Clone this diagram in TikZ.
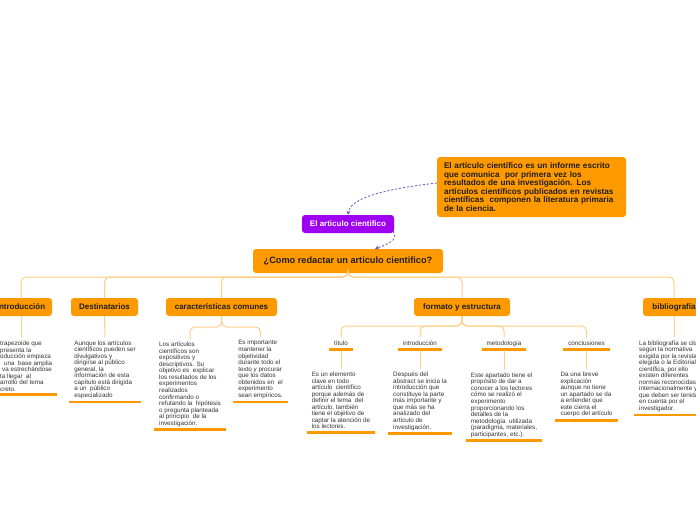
\documentclass[tikz,border=0pt]{standalone}
\usepackage{fontspec}
\setmainfont{Liberation Sans}
\usetikzlibrary{arrows.meta}
\definecolor{orng}{HTML}{FF9900}
\definecolor{lorng}{HTML}{FFCF87}
\definecolor{purp}{HTML}{A000F2}
\definecolor{dpurp}{HTML}{7E52B8}
\definecolor{btext}{HTML}{333333}
\begin{document}
\begin{tikzpicture}[x=1pt,y=-1pt,
  obox/.style={fill=orng, rounded corners=3pt, text=black!88, inner sep=0pt,
    font=\fontsize{8}{9}\selectfont\bfseries, minimum height=18pt},
  pbox/.style={fill=purp, rounded corners=3pt, text=white, inner sep=0pt,
    font=\fontsize{8}{9}\selectfont\bfseries, minimum height=18pt},
  btxt/.style={font=\fontsize{6.3}{6.55}\selectfont, text=btext, align=left,
    inner xsep=5pt, inner ysep=3pt, anchor=north},
  slabel/.style={font=\fontsize{6.3}{6.55}\selectfont, text=btext, inner sep=0pt,
    minimum height=11.6pt},
  tline/.style={lorng, line width=1pt, rounded corners=5pt},
  bar/.style={orng, line width=2.6pt},
  dline/.style={dpurp, line width=0.8pt, dash pattern=on 2.2pt off 1.8pt,
    -{Stealth[length=4pt,width=4pt]}}
]
\fill[white] (0,0) rectangle (696,520);
\useasboundingbox (0,0) rectangle (696,520);

% top definition box
\node[obox, minimum width=189pt, minimum height=60pt, text width=175pt, align=left,
  font=\fontsize{8.2}{8.55}\selectfont\bfseries] (def) at (531.5,187)
  {El artículo científico es un informe escrito\\
   que comunica \ por primera vez los\\
   resultados de una investigación. Los\\
   artículos científicos publicados en revistas\\
   científicas \ componen la literatura primaria\\
   de la ciencia.};

\node[pbox, minimum width=92pt] (pur) at (348,224) {El articulo cientifico};
\node[obox, minimum width=190pt, minimum height=24pt,
  font=\fontsize{9.2}{10}\selectfont\bfseries] (main) at (348,261)
  {¿Como redactar un articulo cientifico?};

\draw[dline] ([yshift=4pt]def.west) .. controls (385,189) and (350,198) .. (pur.north);
\draw[dline] ([xshift=-1pt,yshift=2pt]pur.south east) .. controls (399,240) and (388,244) .. ([xshift=27pt]main.north);

% level 1 boxes
\node[obox, minimum width=62pt] (intro) at (21,307) {Introducción};
\node[obox, minimum width=67pt] (dest) at (104.5,307) {Destinatarios};
\node[obox, minimum width=111pt] (car) at (221.5,307) {características comunes};
\node[obox, minimum width=96pt] (form) at (462,307) {formato y estructura};
\node[obox, minimum width=62pt] (bib) at (674,307) {bibliografía};

\coordinate (hub) at (348,277);
\foreach \n in {intro,dest,car,form,bib}{
  \draw[tline] (main.south) -- (hub) -| (\n.north);
}

% introduccion text
\node[btxt, anchor=north west] (introT) at (-5,337.8)
  {trapezoide que\\ presenta la\\ oducción empieza\\ \hspace*{4pt}una \ base amplia\\
   \hspace*{2pt}va estrechándose\\ ta llegar \ al\\ arrollo del tema\\ creto.};
\draw[tline] (intro.south) -- (intro.south |- introT.north);
\draw[bar] (introT.south west) -- (introT.south east);

% destinatarios text
\node[btxt] (destT) at (105,337.2)
  {Aunque los artículos\\ científicos pueden ser\\ divulgativos y\\ dirigirse al público\\
   general, la\\ información de esta\\ capítulo está dirigida\\ a un \ público\\ especializado};
\draw[tline] (dest.south) -- (destT.north);
\draw[bar] (destT.south west) -- (destT.south east);

% caracteristicas
\node[btxt] (carL) at (190,338.8)
  {Los artículos\\ científicos son\\ expositivos y\\ descriptivos. Su\\ objetivo es \ explicar\\
   los resultados de los\\ experimentos\\ realizados\\ confirmando o\\ refutando la \ hipótesis\\
   o pregunta planteada\\ al principio \ de la\\ investigación.};
\node[btxt] (carR) at (260.5,337.2)
  {Es importante\\ mantener la\\ objetividad\\ durante todo el\\ texto y procurar\\ que los datos\\
   obtenidos en \ el\\ experimento\\ sean empíricos.};
\coordinate (carhub) at (222,327);
\draw[tline] (car.south) -- (carhub) -| (carL.north);
\draw[tline] (car.south) -- (carhub) -| (carR.north);
\draw[bar] (carL.south west) -- (carL.south east);
\draw[bar] (carR.south west) -- (carR.south east);

% formato y estructura sub labels
\node[slabel, minimum width=24pt] (s1) at (341,343.5) {título};
\node[slabel, minimum width=44pt] (s2) at (420,343.5) {introducción};
\node[slabel, minimum width=44pt] (s3) at (504,343.5) {metodología};
\node[slabel, minimum width=47pt] (s4) at (586.5,343.5) {conclusiones};
\coordinate (formhub) at (462,326);
\foreach \s in {s1,s2,s3,s4}{
  \draw[tline] (form.south) -- (formhub) -| (\s.north);
  \draw[bar] (\s.south west) -- (\s.south east);
}

\node[btxt] (t1) at (341,368.8)
  {Es un elemento\\ clave en todo\\ artículo \ científico\\ porque además de\\ definir el tema \ del\\
   artículo, también\\ tiene el objetivo de\\ captar la atención de\\ los lectores.};
\node[btxt] (t2) at (420,368.8)
  {Después del\\ abstract se inicia la\\ introducción que\\ constituye la parte\\ más importante y\\
   que más se ha\\ analizado del\\ artículo de\\ investigación.};
\node[btxt] (t3) at (504,369.5)
  {Este apartado tiene el\\ propósito de dar a\\ conocer a los lectores\\ cómo se realizó el\\
   experimento\\ proporcionando los\\ detalles de la\\ metodología \ utilizada\\
   (paradigma, materiales,\\ participantes, etc.).};
\node[btxt] (t4) at (586.5,368.8)
  {Da una breve\\ explicación\\ aunque no tiene\\ un apartado se da\\ a entender que\\
   este cierra el\\ cuerpo del artículo};
\draw[tline] (s1.south) -- (t1.north);
\draw[tline] (s2.south) -- (t2.north);
\draw[tline] (s3.south) -- (t3.north);
\draw[tline] (s4.south) -- (t4.north);
\draw[bar] (t1.south west) -- (t1.south east);
\draw[bar] (t2.south west) -- (t2.south east);
\draw[bar] (t3.south west) -- (t3.south east);
\draw[bar] (t4.south west) -- (t4.south east);

% bibliografia text
\node[btxt, anchor=north west] (bibT) at (634,337.2)
  {La bibliografía se cita\\ según la normativa\\ exigida por la revista\\ elegida o la Editorial\\
   científica, por ello\\ existen diferentes\\ normas reconocidas\\ internacionalmente y\\
   que deben ser tenidas\\ en cuenta por el\\ investigador.};
\draw[tline] (bib.south) -- (bib.south |- bibT.north);
\draw[bar] (bibT.south west) -- (bibT.south east);
\end{tikzpicture}
\end{document}
